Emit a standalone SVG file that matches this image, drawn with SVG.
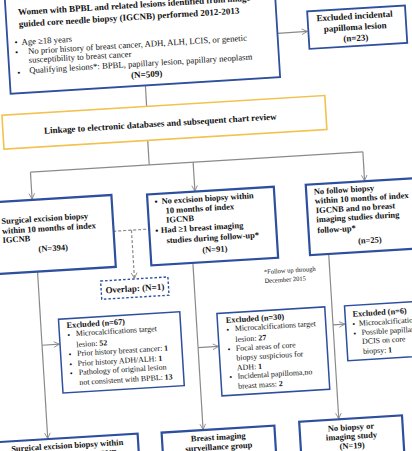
<svg xmlns="http://www.w3.org/2000/svg" width="412" height="451" viewBox="0 0 412 451">
<style>
.b{font-family:"Liberation Serif","Times New Roman",serif;font-weight:bold;fill:#111}
.r{font-family:"Liberation Serif","Times New Roman",serif;fill:#111}
.box{fill:#fff;stroke:#2D4F9E}
.c{stroke:#8A8A8A;stroke-width:1.2;fill:none}
</style>
<defs>
<marker id="ah" viewBox="0 0 10 10" refX="9" refY="5" markerWidth="7" markerHeight="7" markerUnits="userSpaceOnUse" orient="auto">
<path d="M1,1 L9,5 L1,9" fill="none" stroke="#8A8A8A" stroke-width="1.3"/>
</marker>
</defs>
<rect width="412" height="451" fill="#fff"/>
<g transform="rotate(-3.5 206 225)">
<g id="connectors">
<line class="c" x1="289" y1="38" x2="319" y2="38" marker-end="url(#ah)"/>
<line class="c" x1="154" y1="82" x2="154" y2="103"/>
<line class="c" x1="153" y1="137" x2="153" y2="161.5"/>
<line class="c" x1="34" y1="161.5" x2="367" y2="161.5"/>
<line class="c" x1="34" y1="161.5" x2="34" y2="188.5" marker-end="url(#ah)"/>
<line class="c" x1="197" y1="161.5" x2="197" y2="190.5" marker-end="url(#ah)"/>
<line class="c" x1="367" y1="161.5" x2="367" y2="190.5" marker-end="url(#ah)"/>
<line class="c" x1="113" y1="225.6" x2="149" y2="225.6" stroke-dasharray="3 2"/>
<line class="c" x1="131.3" y1="225.6" x2="131.3" y2="274" stroke-dasharray="3 2" marker-end="url(#ah)"/>
<line class="c" x1="35" y1="261" x2="35" y2="428.5" marker-end="url(#ah)"/>
<line class="c" x1="35" y1="335" x2="52.5" y2="335" marker-end="url(#ah)"/>
<line class="c" x1="190.6" y1="262" x2="190.6" y2="429" marker-end="url(#ah)"/>
<line class="c" x1="190.6" y1="347" x2="211" y2="347" marker-end="url(#ah)"/>
<line class="c" x1="326.7" y1="262" x2="326.7" y2="426.5" marker-end="url(#ah)"/>
<line class="c" x1="326.7" y1="332.4" x2="338.5" y2="332.4" marker-end="url(#ah)"/>
</g>
<g id="main">
<rect class="box" x="19" y="-25" width="270" height="107" stroke-width="1.8"/>
<text class="b" x="31.5" y="4" font-size="9">Women with BPBL and related lesions identified from image-</text>
<text class="b" x="31.5" y="16" font-size="9">guided core needle biopsy (IGCNB) performed 2012-2013</text>
<text class="r" x="26" y="34" font-size="8.7">•</text>
<text class="r" x="33" y="34" font-size="8.7">Age ≥18 years</text>
<text class="r" x="26" y="44" font-size="8.7">•</text>
<text class="r" x="39" y="43.5" font-size="8.7">No prior history of breast cancer, ADH, ALH, LCIS, or genetic</text>
<text class="r" x="39" y="52.5" font-size="8.7">susceptibility to breast cancer</text>
<text class="r" x="27" y="64.5" font-size="8.7">•</text>
<text class="r" x="39" y="62.8" font-size="8.7">Qualifying lesions*: BPBL, papillary lesion, papillary neoplasm</text>
<text class="b" x="156" y="74" font-size="9" text-anchor="middle">(N=509)</text>
</g>
<g id="excl-incidental">
<rect class="box" x="320" y="18" width="98" height="37.5" stroke-width="1.8"/>
<text class="b" x="367" y="28.5" font-size="9" text-anchor="middle">Excluded incidental</text>
<text class="b" x="367" y="39.5" font-size="9" text-anchor="middle">papilloma lesion</text>
<text class="b" x="367" y="50.5" font-size="9" text-anchor="middle">(n=23)</text>
</g>
<g id="linkage">
<rect x="9" y="103" width="323.5" height="34" fill="#fff" stroke="#F2C14E" stroke-width="1.6"/>
<text class="b" x="166.5" y="124" font-size="9" text-anchor="middle">Linkage to electronic databases and subsequent chart review</text>
</g>
<g id="surgical">
<rect class="box" x="-12" y="189.3" width="125.4" height="72" stroke-width="2.2"/>
<text class="b" x="2" y="211.5" font-size="8.5">Surgical excision biopsy</text>
<text class="b" x="2" y="221.5" font-size="8.5">within 10 months of index</text>
<text class="b" x="2" y="230.5" font-size="8.5">IGCNB</text>
<text class="b" x="52" y="241.5" font-size="8.5" text-anchor="middle">(N=394)</text>
</g>
<g id="imaging">
<rect class="box" x="149" y="191" width="127" height="71" stroke-width="2.2"/>
<text class="b" x="156" y="201.5" font-size="8.5">•</text>
<text class="b" x="163" y="201.3" font-size="8.5">No excision biopsy within</text>
<text class="b" x="166.5" y="211" font-size="8.5">10 months of index</text>
<text class="b" x="166.5" y="220.3" font-size="8.5">IGCNB</text>
<text class="b" x="155" y="230.5" font-size="8.5">•</text>
<text class="b" x="160.5" y="230.2" font-size="8.5">Had ≥1 breast imaging</text>
<text class="b" x="165.7" y="240.9" font-size="8.5">studies during follow-up*</text>
<text class="b" x="213.3" y="252.5" font-size="8.5" text-anchor="middle">(N=91)</text>
</g>
<g id="nofollow">
<rect class="box" x="308" y="191" width="114" height="70.5" stroke-width="2.2"/>
<text class="b" x="315.6" y="201.2" font-size="8.5">No follow biopsy</text>
<text class="b" x="316" y="210.5" font-size="8.5">within 10 months of index</text>
<text class="b" x="316.5" y="220" font-size="8.5">IGCNB and no breast</text>
<text class="b" x="316.5" y="229.2" font-size="8.5">imaging studies during</text>
<text class="b" x="316.7" y="240" font-size="8.5">follow-up*</text>
<text class="b" x="368.6" y="253" font-size="8.5" text-anchor="middle">(n=25)</text>
</g>
<g id="overlap">
<rect x="97.4" y="274.5" width="67.4" height="18.3" fill="#fff" stroke="#2D4F9E" stroke-width="1.4" stroke-dasharray="2.5 2"/>
<text class="b" x="131.1" y="287" font-size="9" text-anchor="middle">Overlap: (N=1)</text>
</g>
<g id="footnote">
<text class="r" x="261" y="277.5" font-size="6.5">*Follow up through</text>
<text class="r" x="261" y="286.5" font-size="6.5">December 2015</text>
</g>
<g id="excl67">
<rect class="box" x="53" y="310" width="121.5" height="74" stroke-width="1.5"/>
<text class="b" x="60.7" y="319.3" font-size="8.3">Excluded (n=67)</text>
<text class="r" x="61" y="329" font-size="8">•</text>
<text class="r" x="69.4" y="327.9" font-size="7.9">Microcalcifications target</text>
<text class="r" x="69.4" y="339" font-size="7.9">lesion: <tspan font-weight="bold">52</tspan></text>
<text class="r" x="61" y="348.5" font-size="8">•</text>
<text class="r" x="69.5" y="347.9" font-size="7.9">Prior history breast cancer: <tspan font-weight="bold">1</tspan></text>
<text class="r" x="61" y="358.5" font-size="8">•</text>
<text class="r" x="69.5" y="357.9" font-size="7.9">Prior history ADH/ALH: <tspan font-weight="bold">1</tspan></text>
<text class="r" x="61" y="367.5" font-size="8">•</text>
<text class="r" x="70" y="366.9" font-size="7.9">Pathology of original lesion</text>
<text class="r" x="70" y="377" font-size="7.9">not consistent with BPBL: <tspan font-weight="bold">13</tspan></text>
</g>
<g id="excl30">
<rect class="box" x="211.5" y="314" width="108" height="82.5" stroke-width="1.5"/>
<text class="b" x="220" y="324" font-size="8.3">Excluded (n=30)</text>
<text class="r" x="220" y="333.5" font-size="8">•</text>
<text class="r" x="228.4" y="332.6" font-size="7.9">Microcalcifications target</text>
<text class="r" x="228.4" y="343.6" font-size="7.9">lesion: <tspan font-weight="bold">27</tspan></text>
<text class="r" x="220" y="353" font-size="8">•</text>
<text class="r" x="228.2" y="352.6" font-size="7.9">Focal areas of core</text>
<text class="r" x="228.2" y="362" font-size="7.9">biopsy suspicious for</text>
<text class="r" x="228.2" y="372" font-size="7.9">ADH: <tspan font-weight="bold">1</tspan></text>
<text class="r" x="220" y="381" font-size="8">•</text>
<text class="r" x="228.2" y="380.5" font-size="7.9">Incidental papilloma,no</text>
<text class="r" x="228.2" y="390.5" font-size="7.9">breast mass: <tspan font-weight="bold">2</tspan></text>
</g>
<g id="excl6">
<rect class="box" x="339.3" y="314.2" width="95" height="55" stroke-width="1.5"/>
<text class="b" x="346.8" y="325.5" font-size="8.3">Excluded (n=6)</text>
<text class="r" x="346" y="335.5" font-size="8">•</text>
<text class="r" x="352.5" y="335" font-size="7.9">Microcalcifications target</text>
<text class="r" x="346.5" y="345" font-size="8">•</text>
<text class="r" x="354.7" y="344.3" font-size="7.9">Possible papillary</text>
<text class="r" x="354.7" y="353.3" font-size="7.9">DCIS on core</text>
<text class="r" x="355" y="363.3" font-size="7.9">biopsy: <tspan font-weight="bold">1</tspan></text>
</g>
<g id="surgical-final">
<rect class="box" x="-15" y="429" width="140" height="40" stroke-width="2.2"/>
<text class="b" x="54" y="439.5" font-size="8.5" text-anchor="middle">Surgical excision biopsy within</text>
<text class="b" x="54" y="449.5" font-size="8.5" text-anchor="middle">10 months of index IGCNB</text>
</g>
<g id="surveillance">
<rect class="box" x="149" y="429.5" width="113" height="40" stroke-width="2.2"/>
<text class="b" x="205.3" y="440.3" font-size="8.5" text-anchor="middle">Breast imaging</text>
<text class="b" x="205.3" y="450" font-size="8.5" text-anchor="middle">surveillance group</text>
</g>
<g id="nobiopsy">
<rect class="box" x="287" y="427" width="103" height="45" stroke-width="2.2"/>
<text class="b" x="338.3" y="438.5" font-size="8.5" text-anchor="middle">No biopsy or</text>
<text class="b" x="338.3" y="447.5" font-size="8.5" text-anchor="middle">imaging study</text>
<text class="b" x="338.3" y="457" font-size="8.5" text-anchor="middle">(N=19)</text>
</g>
</g>
</svg>
